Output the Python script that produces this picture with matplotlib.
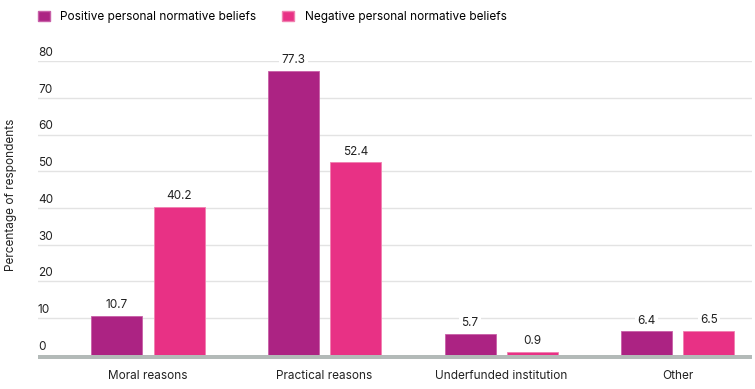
import numpy as np
import matplotlib
matplotlib.use("Agg")
import matplotlib.pyplot as plt
from matplotlib.patches import Patch

plt.rcParams['font.family'] = ['Inter', 'DejaVu Sans']

categories = ["Moral reasons", "Practical reasons", "Underfunded institution", "Other"]
positive = [10.7, 77.3, 5.7, 6.4]
negative = [40.2, 52.4, 0.9, 6.5]
series_names = ["Positive personal normative beliefs", "Negative personal normative beliefs"]
yticks = [0, 10, 20, 30, 40, 50, 60, 70, 80]

c_pos = "#ac2383"
c_neg = "#e83185"

fig = plt.figure(figsize=(7.55, 3.89), dpi=100)
ax = fig.add_axes([0.0503, 0.0771, 0.9457, 0.766])

x = np.arange(len(categories))
w = 0.289
off = 0.176
b1 = ax.bar(x - off, positive, w, color=c_pos, edgecolor="#c860a8", linewidth=0.6, zorder=3)
b2 = ax.bar(x + off, negative, w, color=c_neg, edgecolor="#f080b0", linewidth=0.6, zorder=3)

for bars, vals in ((b1, positive), (b2, negative)):
    for r, v in zip(bars, vals):
        ax.text(r.get_x() + r.get_width() / 2, v + 1.3, f"{v:.1f}", ha="center", va="bottom",
                fontsize=8.5, color="#222222", zorder=2,
                bbox=dict(facecolor="white", edgecolor="none", pad=1.5))

ax.set_xlim(-0.623, 3.42)
ax.set_ylim(-1.1, 80)
ax.set_yticks(yticks[1:])
ax.yaxis.grid(True, color="#e3e3e3", linewidth=1.0, zorder=0)
ax.set_axisbelow(True)
ax.tick_params(axis="y", length=0, labelleft=False)
ax.tick_params(axis="x", length=0, pad=8, labelsize=8.5, colors="#222222")
ax.set_xticks(x)
ax.set_xticklabels(categories)
for s in ax.spines.values():
    s.set_visible(False)
ax.axhspan(-1.1, 0, color="#b3bab8", linewidth=0, zorder=4)

for t in yticks:
    ax.text(0, t + 0.6, str(t), transform=ax.get_yaxis_transform(), ha="left", va="bottom",
            fontsize=8.5, color="#222222")

fig.text(0.0146, 0.499, "Percentage of respondents", rotation=90, ha="center", va="center",
         fontsize=8.5, color="#222222")

handles = [Patch(facecolor=c_pos, edgecolor="#c860a8"), Patch(facecolor=c_neg, edgecolor="#f080b0")]
fig.legend(handles, series_names, loc="upper left", bbox_to_anchor=(0.036, 1.0), ncol=2,
           frameon=False, fontsize=8.5, handlelength=1.0, handleheight=1.0,
           handletextpad=0.9, columnspacing=2.2)

fig.savefig("out.png", dpi=100)
